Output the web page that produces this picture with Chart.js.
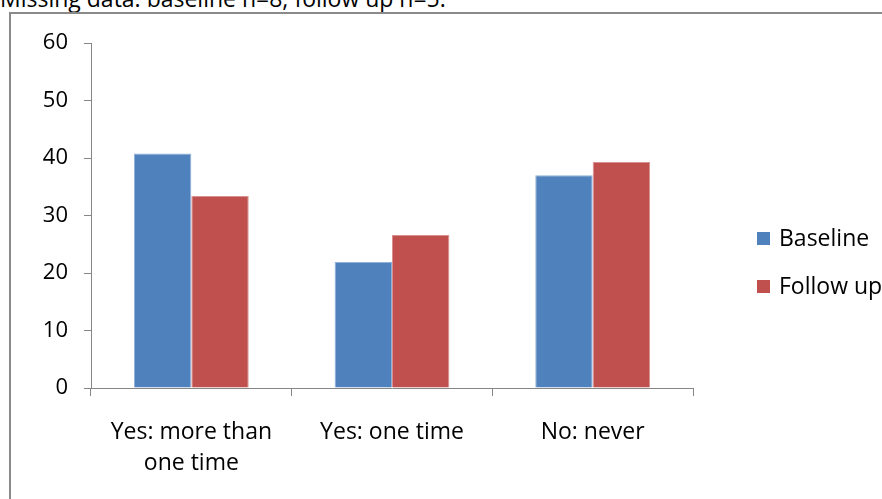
<!DOCTYPE html>
<html>
<head>
<meta charset="utf-8">
<script src="https://cdn.jsdelivr.net/npm/chart.js@4/dist/chart.umd.min.js"></script>
<style>
  html, body { margin: 0; padding: 0; width: 882px; height: 499px; overflow: hidden; background: #fff; }
  body { position: relative; font-family: "Open Sans", Lato, sans-serif; color: #000; }
  #note { position: absolute; left: 0; top: -13px; font-size: 23px; line-height: 23px; white-space: nowrap; }
  #frame { position: absolute; left: 9px; top: 12px; width: 900px; height: 520px; border: 2px solid #8a8a8a; box-sizing: border-box; }
  #wrap { position: absolute; left: 0; top: 0; width: 882px; height: 499px; }
  #legend { position: absolute; left: 757px; top: 222px; font-size: 23px; }
  .li { position: absolute; left: 0; white-space: nowrap; line-height: 30px; }
  .sw { display: inline-block; width: 13px; height: 13px; margin-right: 9px; vertical-align: 1px; }
</style>
</head>
<body>
<div id="note">Missing data: baseline n=8; follow up n=5.</div>
<div id="frame"></div>
<div id="wrap"><canvas id="c" width="882" height="499"></canvas></div>
<div id="legend"></div>
<script>
const categories = [["Yes: more than", "one time"], "Yes: one time", "No: never"];
const seriesNames = ["Baseline", "Follow up"];
const baseline = [40.8, 21.9, 37.0];
const followUp = [33.4, 26.6, 39.3];
const yTicks = [0, 10, 20, 30, 40, 50, 60];
const colors = ["#4F81BD", "#C0504D"];
const edgeColors = ["#8fb0da", "#d9908e"];

const fontFamily = '"Open Sans", Lato, sans-serif';

new Chart(document.getElementById('c'), {
  type: 'bar',
  data: {
    labels: categories,
    datasets: [
      { label: seriesNames[0], data: baseline, backgroundColor: colors[0], borderColor: edgeColors[0], borderWidth: {left:1, right:1, top:1, bottom:0} },
      { label: seriesNames[1], data: followUp, backgroundColor: colors[1], borderColor: edgeColors[1], borderWidth: {left:1, right:1, top:1, bottom:0} }
    ]
  },
  options: {
    responsive: false,
    animation: false,
    devicePixelRatio: 1,
    layout: { padding: { left: 0, right: 189, top: 43, bottom: 0 } },
    datasets: { bar: { categoryPercentage: 0.572, barPercentage: 1.0 } },
    plugins: { legend: { display: false }, tooltip: { enabled: false }, title: { display: false } },
    scales: {
      x: {
        grid: { display: true, drawOnChartArea: false, drawTicks: true, tickLength: 8, color: '#868686', lineWidth: 1, offset: true },
        border: { display: true, color: '#868686', width: 1 },
        ticks: { color: '#000', font: { family: fontFamily, size: 23, lineHeight: 1.35 }, padding: 21, maxRotation: 0, autoSkip: false },
        afterFit: (s) => { s.height = 111; }
      },
      y: {
        min: 0, max: 60,
        afterBuildTicks: (s) => { s.ticks = yTicks.map(v => ({ value: v })); },
        grid: { display: true, drawOnChartArea: false, drawTicks: true, tickLength: 7, color: '#868686', lineWidth: 1 },
        border: { display: true, color: '#868686', width: 1 },
        ticks: { color: '#000', font: { family: fontFamily, size: 22 }, padding: 16 },
        afterFit: (s) => { s.width = 91; }
      }
    }
  }
});

const lg = document.getElementById('legend');
seriesNames.forEach((n, i) => {
  const d = document.createElement('div');
  d.className = 'li';
  d.style.top = (i * 48) + 'px';
  d.innerHTML = '<span class="sw" style="background:' + colors[i] + '"></span>' + n;
  lg.appendChild(d);
});
</script>
</body>
</html>
